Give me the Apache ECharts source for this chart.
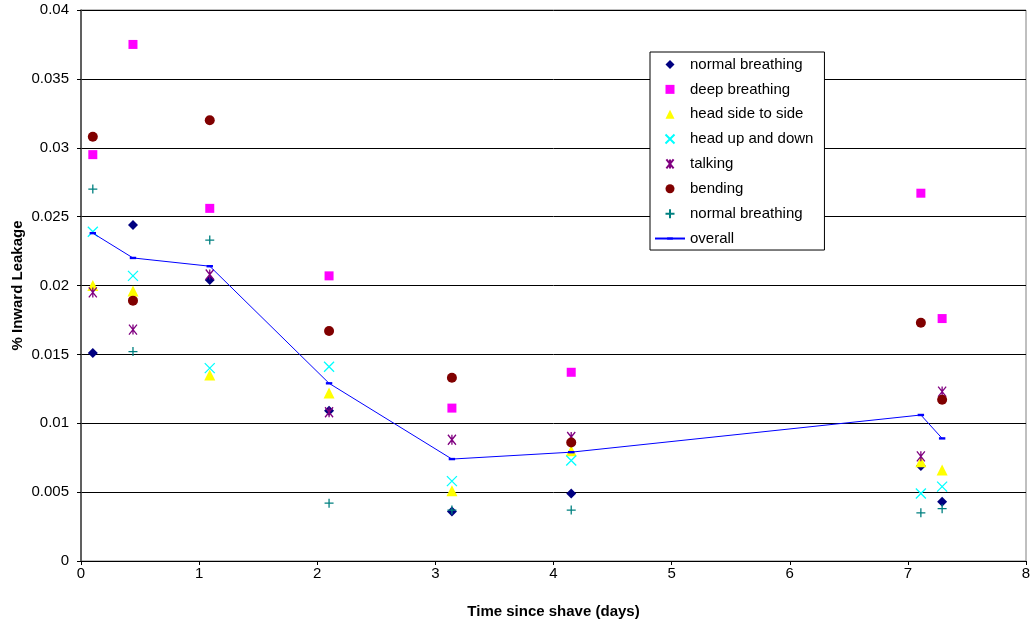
<!DOCTYPE html>
<html>
<head>
<meta charset="utf-8">
<script src="https://cdn.jsdelivr.net/npm/echarts@6/dist/echarts.min.js"></script>
<style>
  html, body { margin: 0; padding: 0; background: #fff; }
  #chart { width: 1031px; height: 625px; }
</style>
</head>
<body>
<div id="chart"></div>
<script>
var days = [0.1, 0.44, 1.09, 2.1, 3.14, 4.15, 7.11, 7.29];

var normalBreathing = [0.0151, 0.0244, 0.0204, 0.0109, 0.0036, 0.0049, 0.0069, 0.0043];
var deepBreathing = [0.0295, 0.0375, 0.0256, 0.0207, 0.0111, 0.0137, 0.0267, 0.0176];
var headSide = [0.0200, 0.0196, 0.0135, 0.0122, 0.0051, 0.0080, 0.0072, 0.0066];
var headUpDown = [0.0239, 0.0207, 0.0140, 0.0141, 0.0058, 0.0073, 0.0049, 0.0054];
var talking = [0.0195, 0.0168, 0.0208, 0.0108, 0.0088, 0.0090, 0.0076, 0.0123];
var bending = [0.0308, 0.0189, 0.0320, 0.0167, 0.0133, 0.0086, 0.0173, 0.0117];
var normalBreathing2 = [0.0270, 0.0152, 0.0233, 0.0042, 0.0037, 0.0037, 0.0035, 0.0038];
var overall = [0.0238, 0.0220, 0.0214, 0.0129, 0.0074, 0.0079, 0.0106, 0.0089];

var xTicks = [0, 1, 2, 3, 4, 5, 6, 7, 8];
var yTicks = [0, 0.005, 0.01, 0.015, 0.02, 0.025, 0.03, 0.035, 0.04];

function pairs(vals) {
	var out = [];
	for (var i = 0; i < days.length; i++) {
		out.push([days[i], vals[i]]);
	}
	return out;
}

// path symbols keep their aspect in the legend too
var diamondPath = 'path://M5,0L10,5L5,10L0,5Z';
var squarePath = 'path://M0,0L10,0L10,10L0,10Z';
var trianglePath = 'path://M5,0L10,10L0,10Z';
var crossPath = 'path://M0,0L10,10M10,0L0,10';
var plusPath = 'path://M5,0L5,10M0,5L10,5';
var starPath = 'path://M1,0L9,10M9,0L1,10M5,0L5,10';
// small dash centred in a 10x10 box (the bare moves keep the box square)
var dashPath = 'path://M0,0M1,3.5L9,3.5L9,6.5L1,6.5ZM10,10';

function fillSeries(name, vals, symbol, color, size) {
	return {
		name: name,
		type: 'scatter',
		data: pairs(vals),
		symbol: symbol,
		symbolSize: size,
		symbolKeepAspect: true,
		itemStyle: { color: color, opacity: 1 }
	};
}

function strokeSeries(name, vals, path, color, size) {
	return {
		name: name,
		type: 'scatter',
		data: pairs(vals),
		symbol: path,
		symbolSize: size,
		symbolKeepAspect: true,
		itemStyle: {
			color: 'rgba(0,0,0,0)',
			borderColor: color,
			borderWidth: 1.3,
			opacity: 1
		}
	};
}

var mychart = echarts.init(document.getElementById('chart'));

var option = {
	animation: false,
	textStyle: { fontFamily: 'Liberation Sans, Arial, sans-serif' },
	grid: {
		left: 81,
		right: 5,
		top: 10,
		bottom: 64,
		outerBoundsMode: 'none',
		containLabel: false,
		show: true,
		borderColor: '#808080',
		borderWidth: 1
	},
	legend: {
		orient: 'vertical',
		left: 650,
		top: 52,
		padding: [5, 11, 4, 4],
		backgroundColor: '#fff',
		borderColor: '#000',
		borderWidth: 1,
		itemWidth: 30,
		itemHeight: 9,
		itemGap: 9.86,
		textStyle: {
			fontSize: 15,
			color: '#000',
			lineHeight: 15,
			fontFamily: 'Liberation Sans, Arial, sans-serif'
		},
		data: ['normal breathing', 'deep breathing', 'head side to side', 'head up and down', 'talking', 'bending', 'normal breathing ', 'overall']
	},
	xAxis: {
		type: 'value',
		min: 0,
		max: 8,
		interval: 1,
		name: 'Time since shave (days)',
		nameLocation: 'middle',
		nameGap: 43,
		nameMoveOverlap: false,
		nameTextStyle: { fontSize: 15, fontWeight: 'bold', color: '#000' },
		axisLine: { lineStyle: { color: '#000', width: 1 } },
		axisTick: { show: true, length: 4, lineStyle: { color: '#000' } },
		axisLabel: { fontSize: 15, color: '#000', margin: 5 },
		splitLine: { show: false }
	},
	yAxis: {
		type: 'value',
		min: 0,
		max: 0.04,
		interval: 0.005,
		name: '% Inward Leakage',
		nameLocation: 'middle',
		nameGap: 56,
		nameMoveOverlap: false,
		nameTextStyle: { fontSize: 15, fontWeight: 'bold', color: '#000' },
		axisLine: { show: true, lineStyle: { color: '#404040', width: 1.5 } },
		axisTick: { show: true, length: 4, lineStyle: { color: '#000' } },
		axisLabel: {
			fontSize: 15,
			color: '#000',
			margin: 12,
			formatter: function(v) {
				return String(parseFloat(v.toFixed(3)));
			}
		},
		splitLine: { show: true, lineStyle: { color: '#000', width: 1 } }
	},
	series: [
		fillSeries('normal breathing', normalBreathing, diamondPath, '#000080', 10),
		fillSeries('deep breathing', deepBreathing, squarePath, '#FF00FF', 9),
		fillSeries('head side to side', headSide, trianglePath, '#FFFF00', 11),
		strokeSeries('head up and down', headUpDown, crossPath, '#00FFFF', 10),
		strokeSeries('talking', talking, starPath, '#800080', 10),
		fillSeries('bending', bending, 'circle', '#800000', 10),
		strokeSeries('normal breathing ', normalBreathing2, plusPath, '#008080', 9),
		{
			name: 'overall',
			type: 'line',
			data: pairs(overall),
			symbol: dashPath,
			symbolSize: 8,
			showSymbol: true,
			lineStyle: { color: '#0000FF', width: 1 },
			itemStyle: { color: '#0000FF', opacity: 1 }
		}
	]
};

mychart.setOption(option);
</script>
</body>
</html>
